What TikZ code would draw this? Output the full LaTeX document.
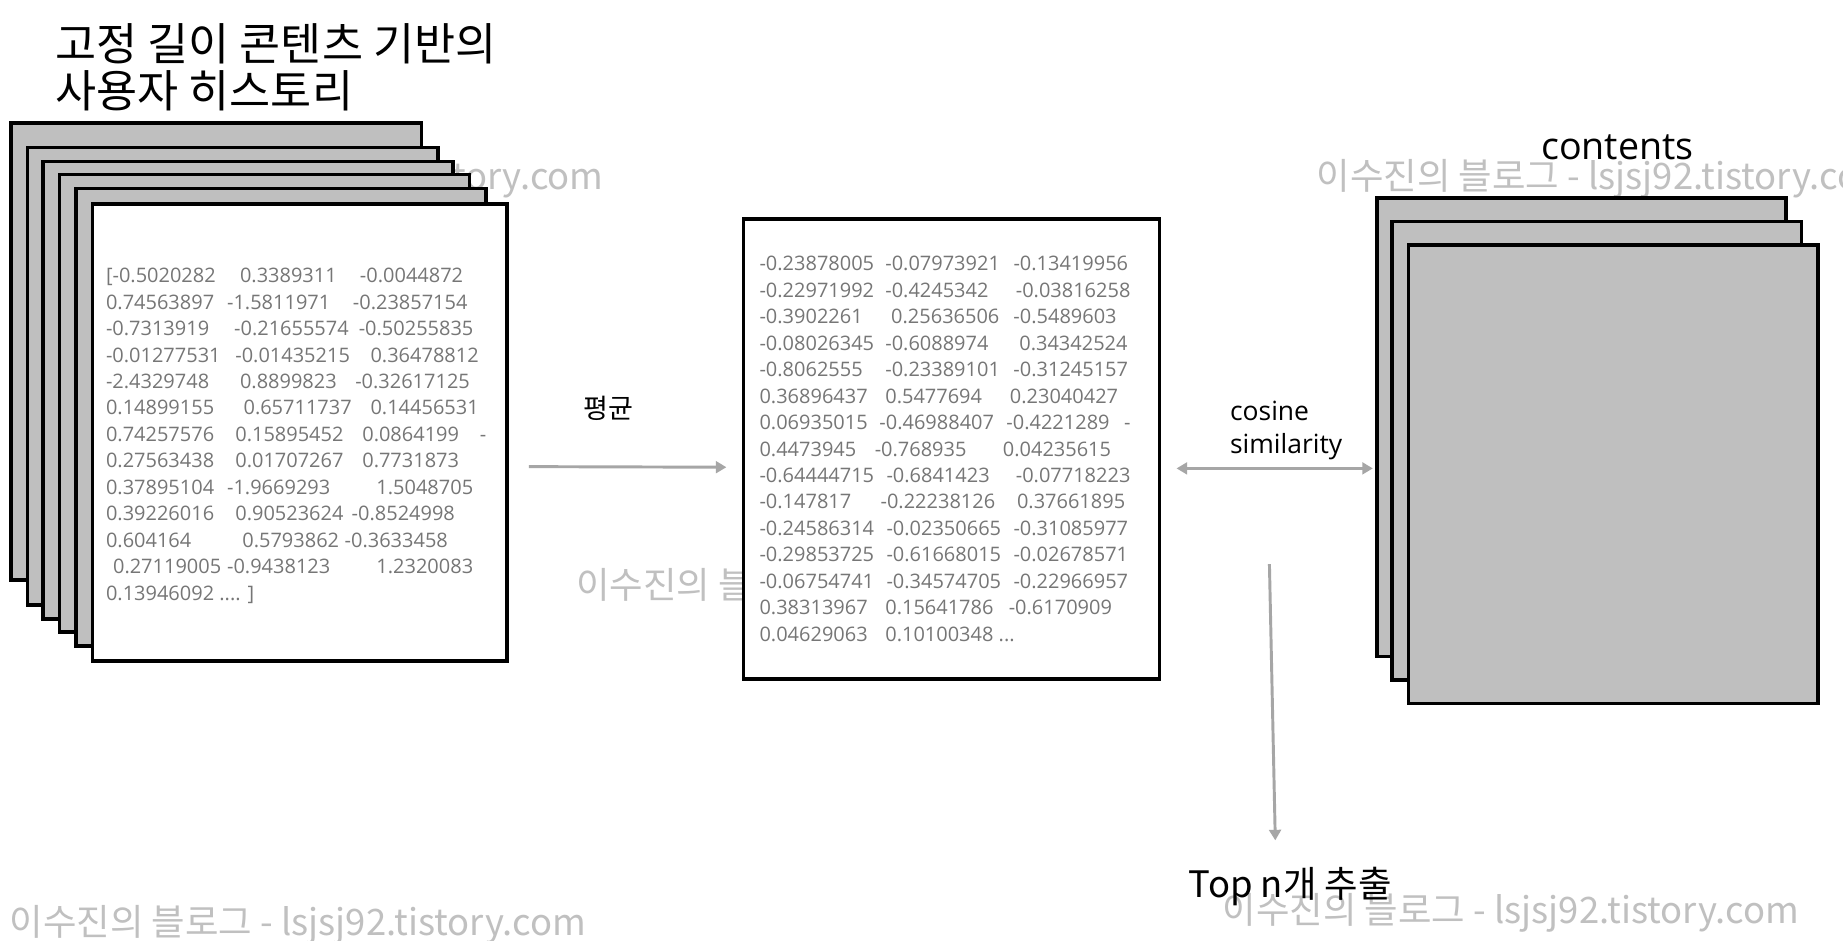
\documentclass[tikz,border=0pt]{standalone}
\usepackage{fontspec}
\setmainfont{Open Sans}
\newfontfamily\krfont{Noto Sans CJK KR}
\usetikzlibrary{arrows.meta,positioning}
\definecolor{CardGray}{RGB}{191,191,191}
\definecolor{ArrowGray}{RGB}{166,166,166}
\definecolor{NumGray}{RGB}{118,118,118}
\definecolor{MarkGray}{RGB}{192,192,192}
\newcommand{\vcol}[2]{\makebox[#1pt][l]{#2}}

\begin{document}
\begin{tikzpicture}[x=1pt, y=-1pt,
    card/.style={draw=black, line width=3pt, fill=CardGray, minimum width=349pt, minimum height=389pt, anchor=north west, inner sep=0pt},
    numtext/.style={text=NumGray, align=left, anchor=north west, inner sep=0pt, font=\fontsize{17}{22.5}\selectfont},
    watermark/.style={text=MarkGray, anchor=west, inner sep=0pt, font=\krfont\fontsize{31}{36}\selectfont},
    titletext/.style={anchor=west, inner sep=0pt, font=\krfont\fontsize{38}{40}\selectfont},
    flowarrow/.style={-{Triangle[length=9pt,width=10pt]}, line width=2.5pt, draw=ArrowGray},
    simarrow/.style={{Triangle[length=9pt,width=10pt]}-{Triangle[length=9pt,width=10pt]}, line width=2.5pt, draw=ArrowGray}
  ]
    \useasboundingbox (0,0) rectangle (1568,800);
    \clip (0,0) rectangle (1568,800);
    \fill[white] (0,0) rectangle (1568,800);

    % blog watermarks
    \node[watermark] (wm1) at (23,152) {이수진의 블로그 - lsjsj92.tistory.com};
    \node[watermark] (wm2) at (1120,152) {이수진의 블로그 - lsjsj92.tistory.com};
    \node[watermark] (wm3) at (490,500) {이수진의 블로그 - lsjsj92.tistory.com};
    \node[watermark] (wm4) at (8,787) {이수진의 블로그 - lsjsj92.tistory.com};
    \node[watermark] (wm5) at (1040,777) {이수진의 블로그 - lsjsj92.tistory.com};

    % user history stack
    \node[titletext] (title1) at (47,37) {고정 길이 콘텐츠 기반의};
    \node[titletext] (title2) at (47,77) {사용자 히스토리};
    \node[card] (h1) at (8,103) {};
    \node[card] (h2) at (22,124) {};
    \node[card] (h3) at (35,136) {};
    \node[card] (h4) at (49,147) {};
    \node[card] (h5) at (63,159) {};
    \node[card, fill=white, minimum width=353pt] (h6) at (77,172) {};
    \node[numtext] (histvec) at (90,228) {%
      \vcol{114}{[-0.5020282}\vcol{102}{0.3389311}-0.0044872\\
      \vcol{103}{0.74563897}\vcol{107}{-1.5811971}-0.23857154\\
      \vcol{109}{-0.7313919}\vcol{106}{-0.21655574}-0.50255835\\
      \vcol{110}{-0.01277531}\vcol{115}{-0.01435215}0.36478812\\
      \vcol{114}{-2.4329748}\vcol{98}{0.8899823}-0.32617125\\
      \vcol{117}{0.14899155}\vcol{108}{0.65711737}0.14456531\\
      \vcol{110}{0.74257576}\vcol{108}{0.15895452}\vcol{100}{0.0864199}-\\
      \vcol{110}{0.27563438}\vcol{108}{0.01707267}0.7731873\\
      \vcol{103}{0.37895104}\vcol{127}{-1.9669293}1.5048705\\
      \vcol{110}{0.39226016}\vcol{99}{0.90523624}-0.8524998\\
      \vcol{116}{0.604164}\vcol{87}{0.5793862}-0.3633458\\
      \hspace*{6pt}\vcol{97}{0.27119005}\vcol{127}{-0.9438123}1.2320083\\
      0.13946092 .... ]};

    % averaged vector
    \node[card, fill=white, minimum width=354pt, minimum height=391pt] (avgvec) at (631,185) {};
    \node[numtext] (avgnums) at (646,218) {%
      \vcol{107}{-0.23878005}\vcol{109}{-0.07973921}-0.13419956\\
      \vcol{107}{-0.22971992}\vcol{111}{-0.4245342}-0.03816258\\
      \vcol{112}{-0.3902261}\vcol{104}{0.25636506}-0.5489603\\
      \vcol{107}{-0.08026345}\vcol{114}{-0.6088974}0.34342524\\
      \vcol{107}{-0.8062555}\vcol{109}{-0.23389101}-0.31245157\\
      \vcol{107}{0.36896437}\vcol{106}{0.5477694}0.23040427\\
      \vcol{102}{0.06935015}\vcol{108}{-0.46988407}\vcol{100}{-0.4221289}-\\
      \vcol{98}{0.4473945}\vcol{109}{-0.768935}0.04235615\\
      \vcol{108}{-0.64444715}\vcol{110}{-0.6841423}-0.07718223\\
      \vcol{103}{-0.147817}\vcol{116}{-0.22238126}0.37661895\\
      \vcol{108}{-0.24586314}\vcol{108}{-0.02350665}-0.31085977\\
      \vcol{108}{-0.29853725}\vcol{108}{-0.61668015}-0.02678571\\
      \vcol{108}{-0.06754741}\vcol{108}{-0.34574705}-0.22966957\\
      \vcol{107}{0.38313967}\vcol{105}{0.15641786}-0.6170909\\
      \vcol{107}{0.04629063}0.10100348 ...};

    % contents stack
    \node[font=\fontsize{32}{38}\selectfont] (contlbl) at (1376,125) {contents};
    \node[card, minimum width=348pt, minimum height=390pt] (c1) at (1170,167) {};
    \node[card, minimum width=348pt, minimum height=390pt] (c2) at (1183,187) {};
    \node[card, minimum width=348pt, minimum height=390pt] (c3) at (1197,207) {};

    % labels
    \node[font=\krfont\fontsize{23}{28}\selectfont] (meanlbl) at (518,347) {평균};
    \node[anchor=west, align=left, font=\fontsize{22.5}{28}\selectfont] (simlbl) at (1043,366) {cosine\\similarity};
    \node[anchor=west, font=\krfont\fontsize{31}{36}\selectfont] (topn) at (1008,754) {Top n개 추출};
    \coordinate (simdrop) at (1080,480);
    \coordinate (topend) at (1085,715);

    \draw[flowarrow] ([shift={(17,29)}]h6.east) -- ([shift={(-13,15.5)}]avgvec.west);
    \draw[simarrow] ([shift={(13,16.5)}]avgvec.east) -- ([shift={(-2,35)}]c1.west);
    \draw[flowarrow] (simdrop) -- (topend);
  \end{tikzpicture}
\end{document}
